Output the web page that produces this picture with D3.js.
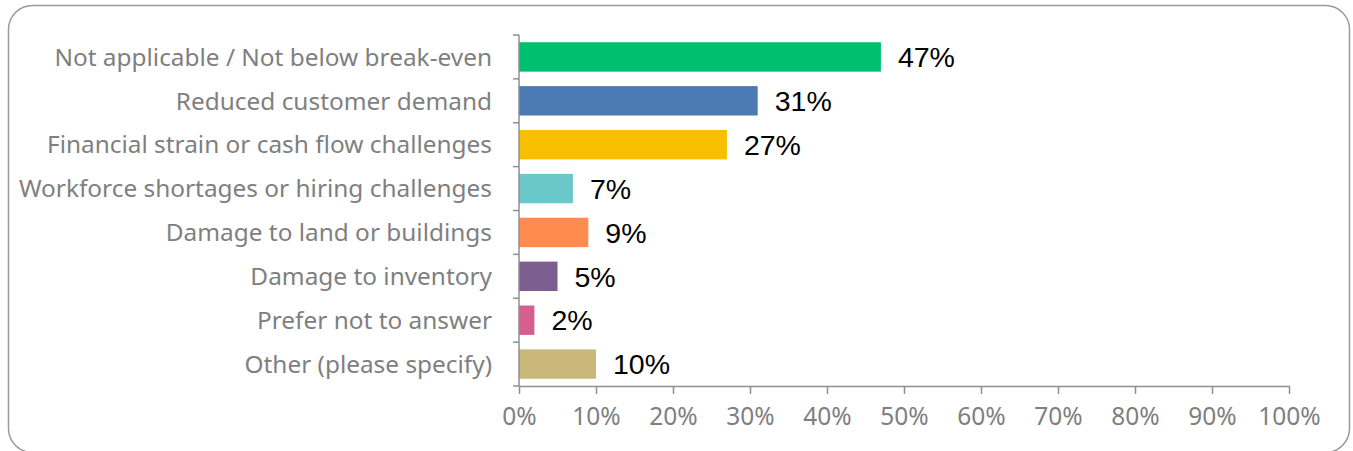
<!DOCTYPE html>
<html>
<head>
<meta charset="utf-8">
<script src="https://cdn.jsdelivr.net/npm/d3@7"></script>
<style>
  html, body { margin: 0; padding: 0; background: #fff; }
  svg { display: block; }
</style>
</head>
<body>
<div id="chart"></div>
<script>
// Reasons for operating below break-even (share of respondents)
const categories = [
  "Not applicable / Not below break-even",
  "Reduced customer demand",
  "Financial strain or cash flow challenges",
  "Workforce shortages or hiring challenges",
  "Damage to land or buildings",
  "Damage to inventory",
  "Prefer not to answer",
  "Other (please specify)"
];
const values = [47, 31, 27, 7, 9, 5, 2, 10];
const barColors = ["#00BF6F", "#4E7AB3", "#F8BF00", "#6AC8CB", "#FF8B4F", "#7D5E90", "#D5608F", "#C9B87A"];
const xTicks = [0, 10, 20, 30, 40, 50, 60, 70, 80, 90, 100];

const W = 1353, H = 451;
const svg = d3.select("#chart").append("svg").attr("width", W).attr("height", H);

// rounded frame
svg.append("rect")
  .attr("x", 8.5).attr("y", 5.5)
  .attr("width", 1341).attr("height", 447)
  .attr("rx", 24).attr("ry", 24)
  .attr("fill", "#fff")
  .attr("stroke", "#9a9a9a").attr("stroke-width", 1.5);

const x = d3.scaleLinear().domain([0, 100]).range([519, 1289]);
const y = d3.scaleBand().domain(categories).range([35, 386])
  .paddingInner(0.33).paddingOuter(0.165);

const axisColor = "#8f8f8f";
const labelColor = "#7f7f7f";
const labelFont = "'Noto Sans', sans-serif";

// bars
svg.append("g").selectAll("rect")
  .data(categories)
  .join("rect")
  .attr("x", x(0))
  .attr("y", d => y(d))
  .attr("width", (d, i) => x(values[i]) - x(0))
  .attr("height", y.bandwidth())
  .attr("fill", (d, i) => barColors[i]);

// value labels
svg.append("g").selectAll("text")
  .data(categories)
  .join("text")
  .attr("x", (d, i) => x(values[i]) + 17)
  .attr("y", d => y(d) + y.bandwidth() / 2)
  .attr("dy", "0.36em")
  .attr("font-family", "'Liberation Sans', Arial, sans-serif")
  .attr("font-size", 28.5)
  .attr("fill", "#000")
  .text((d, i) => values[i] + "%");

// x axis
const xAxis = svg.append("g")
  .attr("transform", `translate(0,386)`)
  .call(d3.axisBottom(x).tickValues(xTicks).tickSize(8).tickSizeOuter(0).tickPadding(14)
    .tickFormat(d => d + "%"));
xAxis.select(".domain").attr("stroke", axisColor).attr("stroke-width", 1.5);
xAxis.selectAll(".tick line").attr("stroke", axisColor).attr("stroke-width", 1.5);
xAxis.selectAll(".tick text")
  .attr("fill", labelColor)
  .attr("font-family", labelFont)
  .attr("font-size", 24.5);

// y axis: line with ticks at category boundaries
const step = y.step();
const bounds = d3.range(categories.length + 1).map(i => 35 + i * step);
const yAxis = svg.append("g");
yAxis.append("line")
  .attr("x1", x(0)).attr("x2", x(0))
  .attr("y1", 35).attr("y2", 386)
  .attr("stroke", axisColor).attr("stroke-width", 1.5);
yAxis.selectAll("line.tk")
  .data(bounds)
  .join("line")
  .attr("class", "tk")
  .attr("x1", x(0) - 6).attr("x2", x(0))
  .attr("y1", d => d).attr("y2", d => d)
  .attr("stroke", axisColor).attr("stroke-width", 1.5);

// category labels
yAxis.selectAll("text")
  .data(categories)
  .join("text")
  .attr("x", 492)
  .attr("y", d => y(d) + y.bandwidth() / 2)
  .attr("dy", "0.36em")
  .attr("text-anchor", "end")
  .attr("font-family", labelFont)
  .attr("font-size", 24.4)
  .attr("fill", labelColor)
  .text(d => d);
</script>
</body>
</html>
